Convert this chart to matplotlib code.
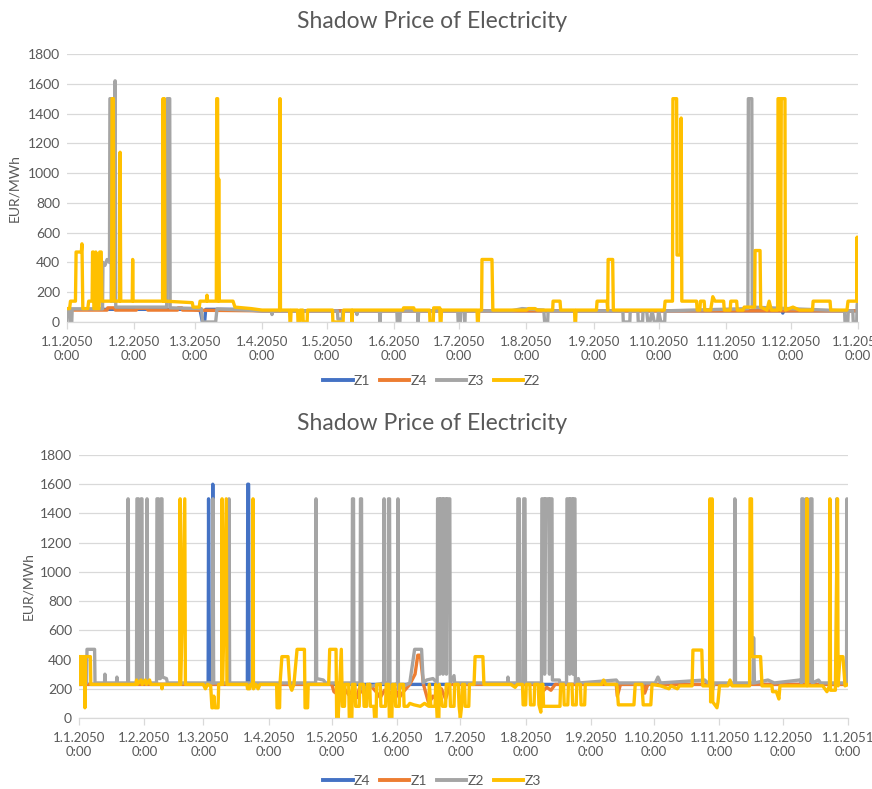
import matplotlib.pyplot as plt
from matplotlib.lines import Line2D

plt.rcParams['font.family'] = ['Lato', 'DejaVu Sans']

TEXT = '#595959'
GRID = '#D9D9D9'
BLUE = '#4472C4'
ORANGE = '#ED7D31'
GREY = '#A5A5A5'
YELLOW = '#FFC000'

# day of year (0 = 1.1.2050 0:00) for each month start
month_days = [0, 31, 59, 90, 120, 151, 181, 212, 243, 273, 304, 334, 365]
month_labels = ['1.1.2050', '1.2.2050', '1.3.2050', '1.4.2050', '1.5.2050',
                '1.6.2050', '1.7.2050', '1.8.2050', '1.9.2050', '1.10.2050',
                '1.11.2050', '1.12.2050', '1.1.2051']
price_ticks = [0, 200, 400, 600, 800, 1000, 1200, 1400, 1600, 1800]

# ---- upper chart: (day, EUR/MWh) ----
up_z1 = [(0, 85), (58, 85), (61.4, 80), (62.5, 0), (63.5, 0), (64, 85), (78, 85),
         (90, 75), (330, 75), (330.3, 60), (330.6, 75), (365, 75)]

up_z4 = [(0, 80), (18.5, 80), (18.8, 95), (22, 95), (22.3, 80), (32, 80), (32.3, 92),
         (37, 92), (37.3, 80), (51, 80), (51.3, 95), (53, 95), (53.3, 80), (90, 75),
         (365, 75)]

up_z3 = [(0, 0), (0.3, 88), (1.5, 88), (1.7, 0), (2.2, 0), (2.4, 88), (16.4, 88),
         (16.6, 400), (17.5, 380), (18.5, 420), (19.6, 400), (19.8, 1500), (20.2, 1500),
         (20.4, 140), (21.9, 140), (22.2, 1620), (22.5, 100), (46, 100), (46.2, 1500),
         (47.4, 1500), (47.6, 95), (62, 90), (62.6, 0), (68.6, 0), (69.2, 88), (90, 75),
         (94.4, 75), (94.6, 50), (94.9, 75), (124.8, 75), (125, 20), (127, 20),
         (127.2, 75), (133.6, 75), (133.8, 50), (134, 75), (144.2, 75), (144.4, 0),
         (144.7, 75), (152.2, 75), (152.4, 0), (153.6, 0), (153.8, 75), (161.8, 75),
         (162, 0), (162.3, 75), (180.3, 75), (180.5, 0), (181.5, 0), (181.7, 75),
         (183.3, 75), (183.5, 0), (183.8, 75), (205, 75), (210, 90), (220, 80),
         (220.4, 0), (221.8, 0), (222, 75), (256.5, 75), (256.7, 0), (259.7, 0),
         (259.9, 75), (263.4, 75), (263.6, 0), (265.6, 0), (265.8, 75), (267.5, 75),
         (268, 0), (269, 0), (270, 75), (271, 0), (272.5, 0), (273, 75), (274, 0),
         (275.8, 0), (276, 75), (314.2, 90), (314.4, 1500), (316, 1500), (316.2, 100),
         (358.8, 75), (359, 0), (360.3, 0), (360.5, 75), (362.6, 75), (362.8, 0),
         (364.4, 0), (364.6, 120), (365, 120)]

up_z2 = [(0, 90), (1.2, 90), (1.6, 140), (3.9, 140), (4.2, 470), (6.6, 470),
         (6.9, 525), (7.3, 90), (9.6, 90), (10, 140), (11.6, 140), (11.8, 470),
         (12.2, 470), (12.4, 90), (13.1, 90), (13.3, 470), (13.6, 90), (14.8, 90),
         (15.1, 470), (15.8, 470), (16.1, 140), (20.6, 140), (20.8, 1500), (21.4, 1500),
         (21.7, 140), (24.3, 140), (24.5, 1140), (24.8, 140), (30.1, 140), (30.3, 420),
         (30.5, 140), (44.1, 140), (44.3, 1500), (44.6, 140), (44.9, 1500), (45.2, 140),
         (57.8, 130), (58.2, 100), (61, 100), (61.4, 140), (64.3, 140), (64.6, 180),
         (64.9, 140), (68.9, 140), (69.1, 1500), (69.5, 1500), (69.7, 140), (70, 960),
         (70.3, 140), (76.6, 140), (77.5, 100), (85, 90), (90, 80), (98.1, 80),
         (98.3, 1500), (98.5, 80), (102.7, 80), (102.9, 0), (103.2, 0), (103.4, 80),
         (106.4, 80), (106.6, 0), (107.4, 0), (107.6, 80), (108.8, 80), (109, 0),
         (110.8, 0), (111, 80), (122.5, 80), (122.7, 0), (127.4, 0), (127.6, 80),
         (131.3, 80), (131.5, 0), (131.8, 80), (155, 80), (155.3, 95), (160, 95),
         (160.3, 80), (167.3, 80), (167.5, 0), (169, 0), (169.2, 95), (172, 95),
         (172.2, 0), (172.6, 0), (172.8, 80), (189.2, 80), (189.4, 0), (189.8, 0),
         (190, 80), (191.3, 80), (191.5, 420), (196.1, 420), (196.5, 80), (212, 80),
         (213, 90), (216, 90), (217, 80), (224.1, 80), (224.3, 140), (227.5, 140),
         (227.8, 80), (234.2, 80), (234.4, 0), (234.7, 0), (234.9, 80), (244.3, 80),
         (244.6, 140), (249.2, 140), (249.5, 80), (249.7, 420), (251.8, 420),
         (252.1, 80), (275.6, 80), (276, 140), (279.4, 140), (279.6, 1500),
         (281.3, 1500), (281.5, 450), (283.2, 450), (283.4, 1370), (283.7, 140),
         (290.5, 140), (290.8, 80), (292, 80), (292.3, 140), (294, 140), (294.3, 80),
         (297, 80), (298, 170), (299, 140), (303, 140), (303.3, 80), (306, 80),
         (306.3, 140), (309, 140), (309.3, 80), (312, 80), (312.5, 100), (317.3, 100),
         (317.5, 480), (319.8, 480), (320.1, 100), (323, 80), (324, 140), (325, 80),
         (327.9, 80), (328.1, 1500), (329, 1500), (329.3, 80), (329.6, 1500),
         (331.3, 1500), (331.5, 80), (335, 100), (338, 80), (344, 80), (344.3, 140),
         (352.1, 140), (352.4, 80), (359.9, 80), (360.4, 140), (364.4, 140),
         (364.6, 570), (364.8, 140), (365, 140)]

# ---- lower chart: (day, EUR/MWh) ----
low_z4 = [(0, 230), (61.3, 230), (61.5, 1500), (61.8, 230), (63.3, 230), (63.5, 1600),
          (63.8, 230), (79.9, 230), (80.1, 1600), (80.5, 1600), (80.7, 230), (365, 230)]

low_z1 = [(0, 230), (120, 230), (121, 180), (124, 150), (126, 200), (128, 160),
          (130, 190), (132, 140), (133, 200), (135, 170), (138, 230), (141, 180),
          (143, 140), (145, 190), (147, 160), (150, 200), (152, 140), (154, 180),
          (157, 230), (159.5, 300), (160.8, 430), (162, 430), (163.5, 230), (166, 100),
          (168, 150), (170, 120), (172, 200), (174, 130), (176, 230), (219, 230),
          (220, 180), (222, 210), (224, 190), (226, 230), (255, 230), (255.5, 150),
          (257, 230), (268, 230), (268.5, 170), (270, 230), (365, 230)]

low_z2 = [(0, 240), (3.6, 240), (3.8, 470), (7.4, 470), (7.6, 240), (12.1, 240),
          (12.3, 300), (12.5, 240), (17.8, 240), (18, 280), (18.2, 240), (23.1, 240),
          (23.3, 1500), (23.5, 240), (27.3, 240), (27.5, 1500), (28.2, 1500),
          (28.5, 260), (29.2, 260), (29.5, 1500), (29.9, 1500), (30.1, 240),
          (32.1, 240), (32.3, 1500), (32.5, 240), (36.8, 240), (37, 1500), (37.7, 1500),
          (38, 270), (38.6, 270), (38.9, 1500), (39.4, 1500), (39.6, 280), (41.5, 270),
          (42, 240), (63.4, 240), (63.6, 1500), (63.9, 240), (71, 240), (71.2, 1500),
          (71.5, 240), (112.3, 240), (112.5, 1500), (112.8, 270), (116, 260),
          (117, 240), (129.6, 240), (129.8, 1500), (130.3, 1500), (130.5, 240),
          (133.4, 240), (133.6, 1500), (134.1, 1500), (134.3, 200), (144.6, 240),
          (144.8, 1500), (145, 240), (146.7, 240), (146.9, 1500), (147.4, 1500),
          (147.6, 200), (151.2, 240), (151.4, 1500), (151.6, 200), (157, 240),
          (159.3, 470), (162.6, 470), (163.4, 240), (165, 260), (168, 270), (170, 240),
          (170.2, 1500), (171, 1500), (171.2, 300), (171.6, 1500), (172.6, 1500),
          (172.8, 300), (173.2, 1500), (174.2, 1500), (174.4, 300), (174.8, 1500),
          (176, 1500), (176.2, 240), (178, 290), (178.3, 240), (203.4, 240),
          (203.6, 280), (203.8, 240), (208.1, 240), (208.3, 1500), (209, 1500),
          (209.3, 240), (210.9, 240), (211.1, 1500), (211.7, 1500), (211.9, 240),
          (219.5, 240), (219.7, 1500), (220.8, 1500), (221, 300), (221.5, 1500),
          (223, 1500), (223.3, 300), (223.6, 1500), (224.5, 1500), (224.7, 260),
          (228, 260), (228.3, 240), (231.4, 240), (231.6, 1500), (232.6, 1500),
          (232.9, 300), (233.2, 1500), (234.2, 1500), (234.5, 300), (234.8, 1500),
          (235.4, 1500), (235.6, 240), (237, 270), (237.4, 240), (255, 260), (256, 240),
          (273.5, 240), (274.8, 280), (276, 240), (297, 260), (298.5, 240),
          (299.5, 240), (300.5, 180), (301.5, 240), (311.1, 240), (311.3, 1500),
          (311.6, 240), (319.9, 240), (320.2, 550), (320.6, 240), (327, 260),
          (330, 240), (342, 260), (342.9, 240), (343.1, 1500), (343.6, 1500),
          (343.9, 250), (344.8, 250), (345, 1500), (345.7, 1500), (346, 250),
          (347, 250), (347.2, 1500), (347.9, 1500), (348.1, 240), (351, 260),
          (352, 240), (359.5, 240), (359.7, 1500), (360, 240), (364.3, 240),
          (364.5, 1500), (364.8, 240), (365, 240)]

low_z3 = [(0, 230), (0.1, 420), (1.5, 420), (1.6, 230), (1.8, 420), (2.6, 420),
          (2.8, 70), (3.0, 420), (5.4, 420), (5.6, 230), (27, 230), (27.3, 260),
          (27.6, 230), (29.5, 260), (30, 230), (31.5, 260), (32, 230), (33.5, 260),
          (34, 230), (39.2, 230), (39.4, 200), (39.6, 230), (47.8, 230), (48, 1500),
          (48.3, 230), (50.2, 1500), (50.5, 230), (59, 230), (60, 200), (61, 230),
          (62.5, 220), (63.1, 70), (63.6, 70), (64, 150), (64.5, 70), (66, 70),
          (66.3, 230), (67.7, 230), (67.9, 1500), (68.2, 230), (69.9, 1500),
          (70.2, 230), (79.7, 230), (80, 200), (81, 200), (81.5, 230), (82.4, 230),
          (82.6, 1500), (82.8, 200), (84, 230), (85, 200), (85.9, 230), (93.8, 230),
          (94, 70), (95.2, 70), (95.4, 230), (96.3, 420), (99.2, 420), (100, 230),
          (101, 190), (102, 230), (103.5, 470), (107, 470), (107.3, 70), (108.5, 70),
          (108.8, 230), (118.5, 230), (119, 470), (122, 470), (122.3, 0), (122.6, 230),
          (123, 0), (124.5, 470), (124.8, 230), (125, 80), (126, 80), (126.3, 230),
          (128, 230), (128.3, 0), (129.5, 0), (129.8, 230), (131, 230), (131.3, 80),
          (133, 80), (133.3, 230), (135, 230), (135.3, 80), (136.5, 80), (136.8, 230),
          (138, 230), (138.3, 80), (140, 80), (140.3, 0), (141, 0), (141.3, 230),
          (143, 230), (143.3, 80), (145.5, 80), (145.8, 230), (147, 230), (147.3, 0),
          (148.5, 0), (148.8, 230), (150, 230), (150.3, 80), (152, 80), (152.3, 230),
          (154, 230), (154.3, 80), (156, 80), (157, 100), (159, 90), (162, 80),
          (164, 100), (166, 80), (166.3, 230), (167, 80), (169, 80), (169.3, 230),
          (170, 0), (170.8, 0), (171, 230), (172.5, 80), (174, 80), (174.3, 230),
          (176, 230), (176.3, 80), (178, 80), (178.3, 230), (180, 230), (180.4, 80),
          (181, 0), (181.6, 80), (182, 230), (183, 230), (183.3, 80), (185, 80),
          (185.3, 230), (187.5, 230), (188, 420), (191.7, 420), (192.2, 230),
          (205, 230), (207, 210), (208, 230), (210.5, 230), (210.8, 90), (212, 90),
          (212.3, 230), (214, 230), (214.3, 90), (216, 90), (216.3, 230), (218, 230),
          (218.3, 90), (219.2, 40), (219.5, 230), (220.2, 230), (220.5, 80),
          (228.3, 80), (228.6, 230), (230, 230), (230.3, 90), (232, 90), (232.3, 230),
          (234, 230), (234.3, 90), (236, 90), (236.3, 230), (238, 230), (238.3, 90),
          (240, 90), (240.3, 230), (248, 230), (249, 260), (250, 230), (255.3, 230),
          (256, 90), (263.4, 90), (264, 230), (267.2, 230), (267.8, 90), (271.4, 90),
          (272, 230), (276, 220), (280, 200), (281, 220), (284, 200), (285, 220),
          (291, 220), (291.4, 465), (295.6, 465), (296.1, 220), (299.3, 220),
          (299.5, 1500), (299.8, 110), (300.5, 1500), (300.8, 110), (302.8, 70),
          (303.3, 110), (304, 220), (308, 220), (309, 260), (310, 220), (318.3, 220),
          (318.5, 1500), (319.2, 1500), (319.5, 420), (323.5, 420), (324.2, 220),
          (328.9, 220), (329.2, 180), (331, 180), (332.2, 130), (332.7, 220),
          (345.3, 220), (345.5, 1500), (345.8, 220), (353, 220), (355, 180),
          (356.2, 220), (356.4, 1500), (356.7, 190), (359, 190), (360, 1500),
          (360.3, 220), (361.2, 420), (362.6, 420), (363.6, 220), (365, 230)]


def draw_panel(ax, series):
    for name, pts, color in series:
        x, y = zip(*pts)
        ax.plot(x, y, color=color, lw=2.4, label=name, solid_joinstyle='round')
    ax.set_xlim(0, 365)
    ax.set_ylim(0, 1800)
    ax.set_yticks(price_ticks)
    ax.set_xticks(month_days)
    ax.set_xticklabels([m + '\n0:00' for m in month_labels])
    ax.grid(axis='y', color=GRID, lw=0.9)
    ax.set_axisbelow(True)
    for side in ['top', 'right', 'left']:
        ax.spines[side].set_visible(False)
    ax.spines['bottom'].set_color(GRID)
    ax.spines['bottom'].set_linewidth(0.9)
    ax.tick_params(axis='y', length=0, pad=5, labelsize=10, labelcolor=TEXT)
    ax.tick_params(axis='x', length=5, width=0.9, color=GRID, pad=5,
                   labelsize=9.5, labelcolor=TEXT)
    for lbl in ax.get_xticklabels():
        lbl.set_linespacing(1.2)


fig = plt.figure(figsize=(8.72, 7.89), dpi=100)

ax1 = fig.add_axes([67 / 872, 1 - 322 / 789, 791 / 872, 268 / 789])
top_series = [('Z1', up_z1, BLUE), ('Z4', up_z4, ORANGE),
              ('Z3', up_z3, GREY), ('Z2', up_z2, YELLOW)]
draw_panel(ax1, top_series)

ax2 = fig.add_axes([79 / 872, 1 - 718 / 789, 769 / 872, 263 / 789])
low_series = [('Z4', low_z4, BLUE), ('Z1', low_z1, ORANGE),
              ('Z2', low_z2, GREY), ('Z3', low_z3, YELLOW)]
draw_panel(ax2, low_series)

title = 'Shadow Price of Electricity'
fig.text(432 / 872, 1 - 21 / 789, title, ha='center', va='center',
         fontsize=16.5, color=TEXT)
fig.text(432 / 872, 1 - 424 / 789, title, ha='center', va='center',
         fontsize=16.5, color=TEXT)
fig.text(14 / 872, 1 - 188 / 789, 'EUR/MWh', rotation=90, ha='center',
         va='center', fontsize=10, color=TEXT)
fig.text(28 / 872, 1 - 586 / 789, 'EUR/MWh', rotation=90, ha='center',
         va='center', fontsize=10, color=TEXT)

for series, ypos in [(top_series, 381), (low_series, 781)]:
    handles = [Line2D([], [], color=c, lw=2.8) for _, _, c in series]
    names = [n for n, _, _ in series]
    leg = fig.legend(handles, names, loc='center', ncol=4, frameon=False,
                     bbox_to_anchor=(432 / 872, 1 - ypos / 789),
                     handlelength=2.1, handletextpad=0.1, columnspacing=0.7,
                     fontsize=10)
    for t in leg.get_texts():
        t.set_color(TEXT)

fig.savefig('out.png', dpi=100)
